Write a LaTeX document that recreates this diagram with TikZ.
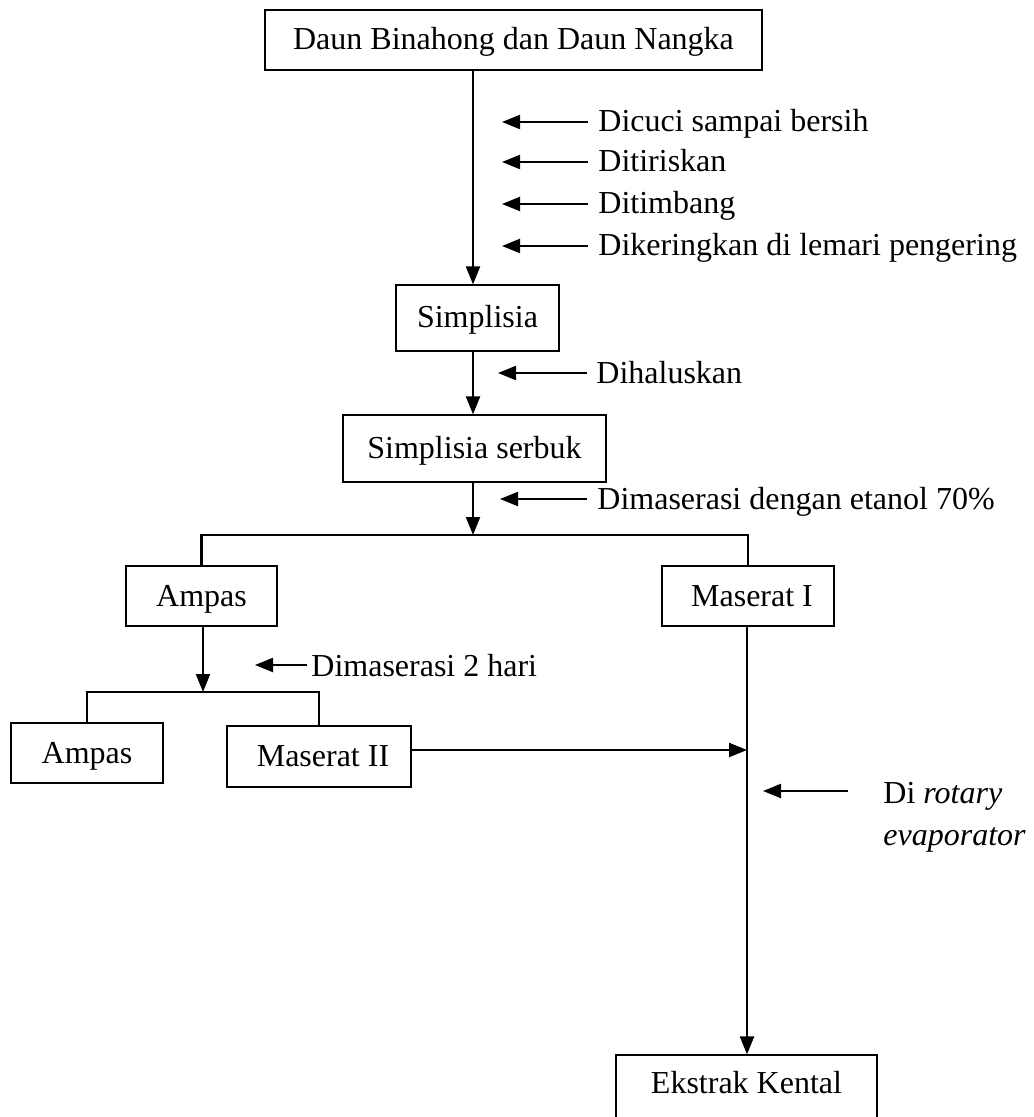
\documentclass[tikz,border=0pt]{standalone}
\usepackage{fontspec}
\setmainfont{Liberation Serif}
\usetikzlibrary{arrows.meta}
\begin{document}
\begin{tikzpicture}[x=0.5pt,y=-0.5pt,
  txt/.style={font=\fontsize{16pt}{21pt}\selectfont},
  box/.style={txt,draw,line width=0.6pt,inner sep=0pt,align=center,text height=10pt,text depth=0pt},
  lbl/.style={txt,anchor=base west,inner sep=0pt,align=left},
  arr/.style={line width=1.1pt,-{Triangle[length=9pt,width=7pt]}},
  ln/.style={line width=1.1pt}]
\clip (0,0) rectangle (1033,1117);
% boxes
\node[box,minimum width=248.5pt,minimum height=30pt] (top) at (513.5,40) {Daun Binahong dan Daun Nangka};
\node[box,minimum width=81.5pt,minimum height=33pt] (simp) at (477.5,318) {Simplisia};
\node[box,minimum width=131.5pt,minimum height=33.5pt] (serb) at (474.5,448.5) {Simplisia serbuk};
\node[box,minimum width=75.5pt,minimum height=30pt] (amp1) at (201.5,596) {Ampas};
\node[box,minimum width=86pt,minimum height=30pt] (mas1) at (748,596) {\hspace*{4pt}Maserat I};
\node[box,minimum width=76pt,minimum height=30pt] (amp2) at (87,753) {Ampas};
\node[box,minimum width=92pt,minimum height=30.5pt] (mas2) at (319,756.5) {\hspace*{4pt}Maserat II};
\node[box,minimum width=130.5pt,minimum height=34pt,text depth=6pt] (ekst) at (746.5,1089) {Ekstrak Kental};
% spine and junction coordinates
\coordinate (spine) at (473,0);
\coordinate (br1) at (473,535);
\coordinate (br2) at (203,692);
\coordinate (join) at (747,750);
% main flow
\draw[arr] (top.south -| spine) -- (simp.north -| spine);
\draw[arr] (simp.south -| spine) -- (serb.north -| spine);
\draw[arr] (serb.south -| spine) -- (br1);
\draw[ln] (amp1.north) |- (br1) -| (mas1.north);
\draw[arr] (amp1.south -| br2) -- (br2);
\draw[ln] (amp2.north) |- (br2) -| (mas2.north);
\draw[arr] (mas1.south -| join) -- (ekst.north -| join);
\draw[arr] (mas2.east |- join) -- (join);
% side labels
\node[lbl] (l1) at (598,132) {Dicuci sampai bersih};
\node[lbl] (l2) at (598,172) {Ditiriskan};
\node[lbl] (l3) at (598,214) {Ditimbang};
\node[lbl] (l4) at (598,256) {Dikeringkan di lemari pengering};
\node[lbl] (l5) at (596,383) {Dihaluskan};
\node[lbl] (l6) at (597,509) {Dimaserasi dengan etanol 70\%};
\node[lbl] (l7) at (311,676) {Dimaserasi 2 hari};
\node[lbl] (l8) at (883,803) {Di \textit{rotary}};
\node[lbl] (l8b) at (883,845) {\textit{evaporator}};
\coordinate (t1) at (502,0);
\coordinate (t5) at (498,0);
\coordinate (t6) at (500,0);
\coordinate (t7) at (255,0);
\coordinate (r2) at (763,0);
\draw[arr] ([shift={(-10,-10)}]l1.base west) -- ([yshift=5pt]l1.base west -| t1);
\draw[arr] ([shift={(-10,-10)}]l2.base west) -- ([yshift=5pt]l2.base west -| t1);
\draw[arr] ([shift={(-10,-10)}]l3.base west) -- ([yshift=5pt]l3.base west -| t1);
\draw[arr] ([shift={(-10,-10)}]l4.base west) -- ([yshift=5pt]l4.base west -| t1);
\draw[arr] ([shift={(-9,-10)}]l5.base west) -- ([yshift=5pt]l5.base west -| t5);
\draw[arr] ([shift={(-10,-10)}]l6.base west) -- ([yshift=5pt]l6.base west -| t6);
\draw[arr] ([shift={(-4,-11)}]l7.base west) -- ([yshift=5.5pt]l7.base west -| t7);
\draw[arr] ([shift={(-35,-12)}]l8.base west) -- ([yshift=6pt]l8.base west -| r2);
\end{tikzpicture}
\end{document}
